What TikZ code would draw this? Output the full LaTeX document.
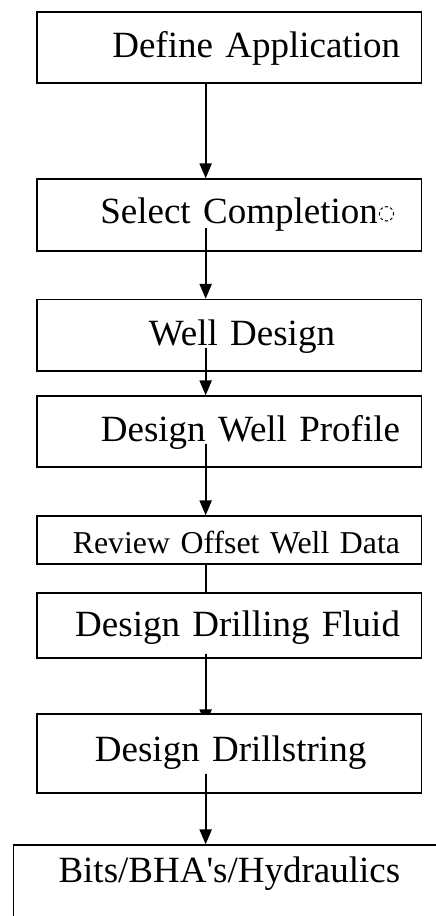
\documentclass[tikz,border=0pt]{standalone}
\usepackage{fontspec}
\newfontfamily\stepfont{Liberation Serif}
\newfontfamily\symfont{DejaVu Sans}
\usetikzlibrary{arrows.meta, positioning}
\pgfdeclarelayer{background}
\pgfsetlayers{background,main}

\begin{document}
\begin{tikzpicture}[every node/.style={font=\stepfont\fontsize{18.5pt}{22pt}\selectfont},
                    stepbox/.style={draw, line width=0.65pt, minimum width=192.25pt,
                      minimum height=35.5pt, inner xsep=0pt, align=right,
                      text width=#1, text height=12.25pt, text depth=2pt},
                    stepbox/.default=170.75pt,
                    arr/.style={-{Triangle[length=7.5pt, width=6pt]}, line width=1.1pt}]
    \useasboundingbox (0,0) rectangle (217.5pt,-458pt);
    \node[stepbox, text depth=2.5pt] (app) at (114.625pt,-23.75pt) {Define Application};
    \node[stepbox=166pt, minimum height=36pt, text depth=4pt, below=47.35pt of app] (compl)
      {Select Completion\raisebox{2pt}{\symfont\fontsize{10pt}{10pt}\selectfont ◌}};
    \node[stepbox=105.75pt, minimum height=35.75pt, below=23.6pt of compl] (well) {Well Design};
    \node[stepbox, text depth=2.5pt, below=11.85pt of well] (prof) {Design Well Profile};
    \node[stepbox, minimum height=24pt, font=\stepfont\fontsize{15.9pt}{18pt}\selectfont,
          text height=13.5pt, text depth=0pt, below=23.85pt of prof] (offset) {Review Offset Well Data};
    \node[stepbox, minimum height=32.5pt, text depth=1pt, below=13.85pt of offset] (fluid) {Design Drilling Fluid};
    \node[stepbox=137pt, minimum height=39.5pt, text depth=4.5pt, fill=white,
          below=27.35pt of fluid] (drill) {Design Drillstring};
    \node[stepbox, minimum width=216pt, minimum height=40pt, text depth=15pt,
          below=25.35pt of drill] (bits) {Bits/BHA's/Hydraulics};
    \draw[arr] ([xshift=-11.8pt]app.south) -- ([xshift=-11.8pt]compl.north);
    \draw[arr] ([xshift=-11.8pt, yshift=12pt]compl.south) -- ([xshift=-11.8pt]well.north);
    \draw[arr] ([xshift=-11.8pt, yshift=12pt]well.south) -- ([xshift=-11.8pt]prof.north);
    \draw[arr] ([xshift=-11.8pt, yshift=12pt]prof.south) -- ([xshift=-11.8pt]offset.north);
    \draw[line width=1.1pt] ([xshift=-11.8pt]offset.south) -- ([xshift=-11.8pt]fluid.north);
    \begin{pgfonlayer}{background}
      \draw[arr] ([xshift=-11.8pt, yshift=2.5pt]fluid.south) -- ([xshift=-11.8pt, yshift=-5.5pt]drill.north);
    \end{pgfonlayer}
    \draw[arr] ([xshift=-11.8pt, yshift=10pt]drill.south) -- ([xshift=-11.8pt]bits.north);
  \end{tikzpicture}
\end{document}
